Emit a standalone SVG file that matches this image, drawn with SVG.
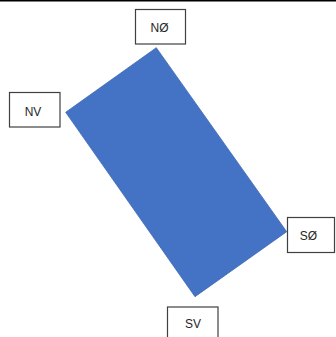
<svg xmlns="http://www.w3.org/2000/svg" width="336" height="337" viewBox="0 0 336 337">
<style>
.box{fill:#ffffff;stroke:#404040;stroke-width:1.2}
.lbl{font-family:"Liberation Sans",Arial,sans-serif;font-size:12px;fill:#262626;text-anchor:middle}
</style>
<rect x="0" y="0" width="336" height="337" fill="#ffffff"/>
<rect x="0" y="0" width="336" height="1.5" fill="#000000"/>
<g id="shape">
<polygon points="156.3,47.7 286.7,231.7 195,296.7 65.7,112.3" fill="#4472C4" stroke="#3F69B5" stroke-width="0.8"/>
</g>
<g id="connectors"></g>
<g id="node-NO">
<rect class="box" x="135.5" y="9.5" width="50" height="34.5"/>
<text class="lbl" x="159.5" y="31.5">NØ</text>
</g>
<g id="node-NV">
<rect class="box" x="9.5" y="92.5" width="50.5" height="34.5"/>
<text class="lbl" x="33" y="115.5">NV</text>
</g>
<g id="node-SO">
<rect class="box" x="287.5" y="217.5" width="47" height="35"/>
<text class="lbl" x="308.5" y="240">SØ</text>
</g>
<g id="node-SV">
<rect class="box" x="167.5" y="307" width="50.5" height="35"/>
<text class="lbl" x="193" y="328.3">SV</text>
</g>
</svg>
